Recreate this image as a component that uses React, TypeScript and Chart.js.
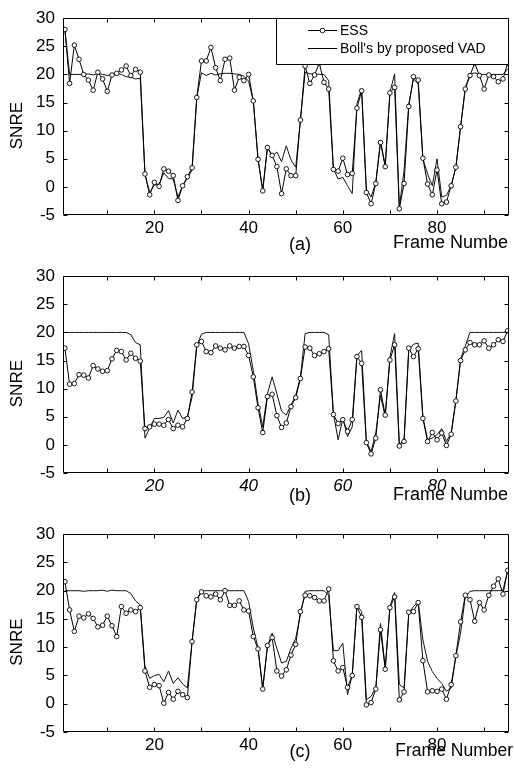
import React, { useEffect, useRef } from "react";
import { Chart, registerables } from "chart.js";

Chart.register(...registerables);

// ---------- data ----------
const frames: number[] = Array.from({ length: 95 }, (_, i) => i + 1);
const xTickValues = [20, 40, 60, 80];
const xMinorTicks = [10, 20, 30, 40, 50, 60, 70, 80, 90];
const yTickValues = [-5, 0, 5, 10, 15, 20, 25, 30];

const essA = [
  28.0, 18.4, 25.2, 22.7, 20.0, 19.0, 17.2, 20.4, 19.2, 17.0,
  19.9, 20.2, 20.8, 21.5, 19.8, 20.9, 20.4, 2.3, -1.4, 0.8,
  0.1, 3.2, 2.8, 2.0, -2.4, 0.2, 1.8, 3.4, 15.9, 22.4,
  22.4, 24.8, 21.2, 18.9, 22.7, 22.9, 17.2, 19.5, 18.9, 20.0,
  15.3, 4.9, -0.7, 7.0, 5.6, 3.6, -1.2, 3.2, 2.0, 2.0,
  11.9, 21.5, 18.4, 19.9, 22.0, 18.6, 17.4, 3.1, 2.8, 5.1,
  2.2, 2.4, 14.0, 17.1, -1.0, -3.0, 0.6, 7.9, 3.6, 16.7,
  17.7, -3.9, 0.6, 14.3, 19.6, 19.0, 5.1, 0.5, -1.4, 3.0,
  -3.0, -2.7, 0.2, 3.5, 10.7, 17.4, 19.8, 22.0, 19.8, 17.4,
  19.9, 19.6, 18.7, 19.2, 22.0,
];
const bollA = [
  28.0, 20.0, 20.0, 20.0, 20.0, 20.1, 19.9, 20.2, 20.0, 19.8,
  20.0, 20.2, 20.0, 19.6, 19.5, 19.2, 19.3, 2.3, -1.0, 0.3,
  0.5, 2.5, 1.5, 1.4, -1.8, 0.2, 1.5, 3.0, 15.9, 20.3,
  19.8, 20.2, 19.9, 20.1, 20.2, 20.2, 20.1, 20.0, 19.7, 18.8,
  15.3, 5.0, -0.5, 7.0, 5.5, 6.2, 4.5, 7.3, 4.8, 3.5,
  11.9, 20.4, 20.1, 20.1, 20.0, 20.0, 18.9, 3.2, 1.4, 1.7,
  0.2, -1.2, 14.8, 17.4, -0.4, -1.8, 0.8, 8.2, 3.8, 16.8,
  20.1, -3.6, 2.9, 14.7, 19.2, 18.3, 5.0, 2.3, 0.2, 5.0,
  -1.8, -1.5, 0.2, 3.5, 10.6, 17.7, 20.0, 20.3, 20.0, 20.0,
  20.0, 20.0, 20.0, 20.0, 21.0,
];

const essB = [
  17.2, 10.8, 10.9, 12.5, 12.4, 11.9, 14.1, 13.5, 13.1, 13.2,
  15.3, 16.8, 16.6, 15.1, 16.3, 15.4, 14.9, 2.9, 3.2, 3.7,
  3.7, 3.5, 4.5, 2.9, 3.5, 3.2, 4.7, 9.4, 17.8, 18.4,
  16.6, 16.4, 17.6, 17.2, 16.9, 17.6, 17.2, 17.5, 17.5, 15.9,
  12.1, 6.6, 2.2, 8.6, 9.0, 5.2, 3.1, 3.9, 6.8, 8.4,
  11.8, 17.4, 17.2, 15.9, 16.2, 16.6, 17.1, 5.4, 3.8, 4.5,
  2.4, 4.5, 15.7, 14.5, 0.4, -1.6, 1.2, 9.8, 5.3, 15.1,
  17.8, -0.2, 0.6, 17.2, 15.7, 17.1, 4.7, 0.6, 2.2, 0.9,
  2.1, -0.1, 1.9, 7.8, 15.0, 16.9, 18.2, 17.8, 17.8, 18.5,
  17.2, 17.8, 18.7, 18.4, 20.3,
];
const bollB = [
  20.0, 20.0, 20.0, 20.0, 20.0, 20.0, 20.0, 20.0, 20.0, 20.0,
  20.0, 20.0, 20.0, 20.0, 19.6, 18.2, 17.8, 1.2, 3.0, 4.7,
  4.7, 4.9, 6.1, 3.9, 6.2, 4.7, 5.0, 8.5, 17.6, 19.7,
  20.0, 20.0, 20.0, 20.0, 20.0, 20.0, 20.0, 20.0, 20.0, 18.0,
  13.2, 7.4, 3.2, 9.1, 12.1, 9.1, 6.0, 5.3, 7.1, 8.8,
  12.1, 19.8, 20.0, 20.0, 20.0, 20.0, 19.6, 5.6, 0.9, 4.7,
  1.5, 3.2, 15.9, 16.8, 0.6, -1.2, 2.1, 8.8, 5.0, 15.6,
  19.8, 0.0, 0.9, 16.8, 17.9, 18.1, 5.0, 0.9, 1.2, 1.8,
  2.9, 0.6, 2.1, 7.9, 15.3, 17.6, 20.0, 20.0, 20.0, 20.0,
  20.0, 20.0, 20.0, 20.0, 20.3,
];

const essC = [
  21.6, 16.6, 12.8, 15.5, 15.2, 15.9, 15.1, 13.6, 13.9, 15.5,
  13.8, 11.9, 17.2, 16.0, 16.6, 16.3, 17.0, 5.8, 2.9, 3.4,
  3.2, 0.1, 2.0, 0.8, 2.2, 1.6, 1.1, 11.0, 18.4, 19.8,
  19.1, 18.9, 19.4, 18.4, 20.0, 17.4, 17.4, 18.2, 16.6, 16.4,
  11.9, 9.7, 2.6, 10.3, 11.7, 5.8, 4.9, 6.0, 8.6, 10.5,
  16.3, 19.2, 19.1, 18.8, 18.2, 18.2, 20.3, 7.6, 5.8, 6.4,
  2.9, 5.0, 17.2, 15.3, -0.2, 0.2, 2.6, 13.1, 6.1, 17.0,
  18.9, 0.7, 2.1, 16.2, 16.3, 17.9, 7.6, 2.1, 2.3, 2.2,
  2.6, 0.8, 3.4, 8.5, 14.5, 19.2, 18.4, 14.6, 17.9, 16.6,
  19.2, 20.8, 22.1, 19.4, 23.6,
];
const bollC = [
  20.0, 20.0, 20.0, 20.0, 19.9, 20.0, 20.0, 20.0, 20.1, 19.9,
  20.1, 20.0, 20.0, 20.0, 19.5, 18.2, 17.5, 6.6, 4.5, 5.0,
  5.2, 3.9, 5.8, 3.6, 4.6, 3.5, 2.8, 11.0, 18.5, 20.0,
  20.0, 20.0, 20.0, 20.0, 20.0, 20.0, 20.0, 20.0, 20.0, 18.1,
  13.4, 9.9, 2.7, 10.1, 12.5, 9.8, 7.2, 7.5, 9.8, 11.6,
  15.7, 19.9, 20.0, 20.0, 20.0, 20.0, 19.2, 9.4, 9.4, 10.7,
  1.6, 5.1, 17.4, 16.3, 0.7, 1.3, 2.8, 14.2, 6.3, 17.2,
  19.7, 3.4, 2.8, 16.0, 17.2, 18.1, 11.3, 7.5, 5.7, 4.5,
  3.6, 2.2, 2.8, 8.4, 12.5, 18.9, 19.9, 20.0, 20.0, 20.0,
  20.0, 20.0, 20.0, 20.1, 23.6,
];

const seriesNames = ["ESS", "Boll's by proposed VAD"];
const yTitle = "SNRE";

// ---------- panel component ----------
const FONT = "'Liberation Sans', Arial, Helvetica, sans-serif";

type PanelCfg = {
  top: number;
  height: number;
  plotTop: number;
  plotH: number;
  ess: number[];
  boll: number[];
  tag: string;
  tagY: number;
  xTitle: string;
  xTitleY: number;
  xTitleRight: number;
  xTitleSize: number;
  italicTicks: boolean;
  legend: boolean;
};

function Panel(cfg: PanelCfg) {
  const ref = useRef<HTMLCanvasElement | null>(null);
  useEffect(() => {
    if (!ref.current) return;
    const decor = {
      id: "decor",
      afterDraw(chart: any) {
        const ctx = chart.ctx as CanvasRenderingContext2D;
        const { left, right, top, bottom } = chart.chartArea;
        const xs = chart.scales.x;
        const ys = chart.scales.y;
        ctx.save();
        ctx.strokeStyle = "#000";
        ctx.lineWidth = 1;
        const L = Math.round(left) + 0.5;
        const R = Math.round(right) - 0.5;
        const T = Math.round(top) + 0.5;
        const B = Math.round(bottom) - 0.5;
        ctx.beginPath();
        ctx.rect(L, T, R - L, B - T);
        ctx.stroke();
        // inward ticks
        ctx.beginPath();
        for (const v of xMinorTicks) {
          const px = Math.round(xs.getPixelForValue(v)) + 0.5;
          ctx.moveTo(px, B);
          ctx.lineTo(px, B - 4);
          ctx.moveTo(px, T);
          ctx.lineTo(px, T + 4);
        }
        for (const v of yTickValues) {
          const py = Math.round(ys.getPixelForValue(v)) + 0.5;
          ctx.moveTo(L, py);
          ctx.lineTo(L + 4, py);
          ctx.moveTo(R, py);
          ctx.lineTo(R - 4, py);
        }
        ctx.stroke();

        // legend
        if (cfg.legend) {
          const lx = 276, ly = T, lw = R - 276, lh = 46;
          ctx.fillStyle = "#fff";
          ctx.fillRect(lx, ly, lw, lh);
          ctx.beginPath();
          ctx.rect(lx + 0.5, ly, lw - 0.5, lh);
          ctx.stroke();
          const rows = [ly + 12, ly + 30];
          ctx.beginPath();
          ctx.moveTo(308, rows[0]);
          ctx.lineTo(337, rows[0]);
          ctx.moveTo(308, rows[1]);
          ctx.lineTo(337, rows[1]);
          ctx.stroke();
          ctx.beginPath();
          ctx.arc(322.5, rows[0], 2.3, 0, Math.PI * 2);
          ctx.fillStyle = "#fff";
          ctx.fill();
          ctx.lineWidth = 0.9;
          ctx.stroke();
          ctx.fillStyle = "#000";
          ctx.font = `14px ${FONT}`;
          ctx.textAlign = "left";
          ctx.textBaseline = "middle";
          ctx.fillText(seriesNames[0], 340, rows[0] + 1);
          ctx.fillText(seriesNames[1], 340, rows[1] + 1);
        }

        // y title
        ctx.fillStyle = "#000";
        ctx.font = `17px ${FONT}`;
        ctx.textAlign = "center";
        ctx.textBaseline = "middle";
        ctx.save();
        ctx.translate(17, (top + bottom) / 2 + 9);
        ctx.rotate(-Math.PI / 2);
        ctx.fillText(yTitle, 0, 0);
        ctx.restore();

        // tag & x title
        ctx.font = `18px ${FONT}`;
        ctx.textAlign = "center";
        ctx.fillText(cfg.tag, 300, cfg.tagY);
        ctx.font = `${cfg.xTitleSize}px ${FONT}`;
        ctx.textAlign = "right";
        ctx.fillText(cfg.xTitle, cfg.xTitleRight, cfg.xTitleY);
        ctx.restore();
      },
    };

    const chart = new Chart(ref.current, {
      type: "line",
      data: {
        datasets: [
          {
            label: seriesNames[0],
            data: frames.map((f, i) => ({ x: f, y: cfg.ess[i] })),
            borderColor: "#000",
            borderWidth: 1,
            pointRadius: 2.3,
            pointBackgroundColor: "#fff",
            pointBorderColor: "#000",
            pointBorderWidth: 0.9,
            tension: 0,
          },
          {
            label: seriesNames[1],
            data: frames.map((f, i) => ({ x: f, y: cfg.boll[i] })),
            borderColor: "#111",
            borderWidth: 1,
            pointRadius: 0,
            tension: 0,
          },
        ],
      },
      options: {
        animation: false,
        responsive: false,
        maintainAspectRatio: false,
        events: [],
        layout: { padding: { top: cfg.plotTop, right: 2, left: 0, bottom: 0 } },
        plugins: { legend: { display: false }, tooltip: { enabled: false } },
        scales: {
          x: {
            type: "linear",
            min: 0.6,
            max: 95.3,
            grid: { display: false, drawTicks: false },
            border: { display: false },
            ticks: {
              color: "#000",
              padding: 3,
              maxRotation: 0,
              font: { family: FONT, size: 17, style: cfg.italicTicks ? "italic" : "normal" },
            },
            afterBuildTicks: (axis: any) => {
              axis.ticks = xTickValues.map((v) => ({ value: v }));
            },
            afterFit: (s: any) => {
              s.height = cfg.height - cfg.plotTop - cfg.plotH;
            },
          },
          y: {
            min: -5,
            max: 30,
            grid: { display: false, drawTicks: false },
            border: { display: false },
            ticks: {
              color: "#000",
              padding: 8,
              font: { family: FONT, size: 17 },
            },
            afterBuildTicks: (axis: any) => {
              axis.ticks = yTickValues.map((v) => ({ value: v }));
            },
            afterFit: (s: any) => {
              s.width = 63;
            },
          },
        },
      } as any,
      plugins: [decor],
    });
    return () => chart.destroy();
  }, []);
  return (
    <canvas
      ref={ref}
      width={514}
      height={cfg.height}
      style={{ position: "absolute", left: 0, top: cfg.top, width: 514, height: cfg.height }}
    />
  );
}

export default function App() {
  return (
    <div style={{ position: "fixed", left: 0, top: 0, width: 514, height: 776, background: "#fff", overflow: "hidden" }}>
      <Panel top={0} height={258} plotTop={18} plotH={197} ess={essA} boll={bollA}
        tag="(a)" tagY={245} xTitle="Frame Numbe" xTitleY={243} xTitleRight={508} xTitleSize={18}
        italicTicks={false} legend={true} />
      <Panel top={258} height={258} plotTop={17} plotH={198} ess={essB} boll={bollB}
        tag="(b)" tagY={238} xTitle="Frame Numbe" xTitleY={237} xTitleRight={508} xTitleSize={18}
        italicTicks={true} legend={false} />
      <Panel top={516} height={260} plotTop={18} plotH={198} ess={essC} boll={bollC}
        tag="(c)" tagY={236} xTitle="Frame Number" xTitleY={235} xTitleRight={513} xTitleSize={17.5}
        italicTicks={false} legend={false} />
    </div>
  );
}
